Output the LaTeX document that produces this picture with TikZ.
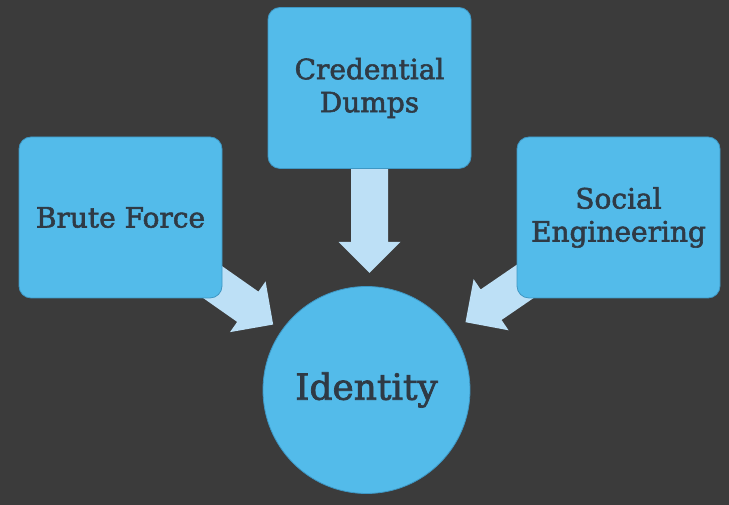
\documentclass[tikz,border=0pt]{standalone}
\usepackage{fontspec}
\setmainfont{DejaVu Serif}[FakeBold=2]
\usepackage{tikz}
\usetikzlibrary{calc}

\definecolor{bgdark}{HTML}{3B3B3B}
\definecolor{boxblue}{HTML}{53BBEA}
\definecolor{edgeblue}{HTML}{3E97C4}
\definecolor{arrowblue}{HTML}{BDE0F6}
\definecolor{textdark}{HTML}{2F3A45}

% block arrow: from #1 towards #2, tip #3 short of #2
\newcommand{\fatarrow}[3]{%
	\coordinate (tip) at ($(#2)!#3!(#1)$);
	\coordinate (neck) at ($(tip)!31pt!(#1)$);
	\fill [arrowblue] ($(#1)!18.5pt!90:(tip)$) -- ($(neck)!18.5pt!90:(tip)$) -- ($(neck)!31pt!90:(tip)$) -- (tip)
		-- ($(neck)!31pt!-90:(tip)$) -- ($(neck)!18.5pt!-90:(tip)$) -- ($(#1)!18.5pt!-90:(tip)$) -- cycle;
}

\begin{document}
\begin{tikzpicture}[x=1pt,y=1pt,
	box/.style={draw=edgeblue, line width=0.8pt, fill=boxblue, rounded corners=12pt, minimum width=203pt, minimum height=161pt, inner sep=0pt, align=center, text=textdark, font=\fontsize{28}{33}\selectfont},
	idcircle/.style={circle, draw=edgeblue, line width=0.8pt, fill=boxblue, minimum size=207pt, inner sep=0pt, text=textdark, font=\fontsize{36}{40}\selectfont}]
%	\draw [help lines] (0,0) grid (729,505);
	\fill [bgdark] (0,0) rectangle (729,505);
	\node [idcircle] (id) at (366.5,115) {Identity};
	\coordinate (idtop) at (369.5,115);
	\coordinate (bfc) at (120.5,287.5);
	\coordinate (cdc) at (369.5,417);
	\coordinate (sec) at (618.5,287.5);
	% arrows go under the boxes
	\fatarrow{bfc}{id}{114pt}
	\fatarrow{cdc}{idtop}{117pt}
	\fatarrow{sec}{id}{120pt}
	\node [box] (brute) at (bfc) {Brute Force};
	\node [box] (cred) at (cdc) {Credential\\Dumps};
	\node [box] (social) at (sec) {Social\\Engineering};
\end{tikzpicture}
\end{document}
